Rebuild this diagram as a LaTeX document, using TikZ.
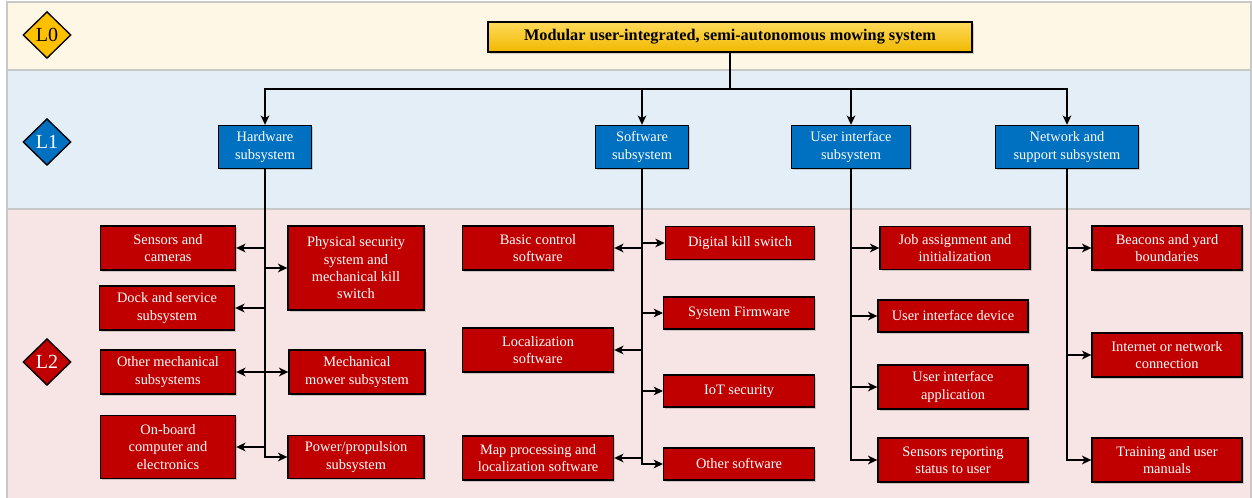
\documentclass[tikz,border=0pt]{standalone}
\usepackage{fontspec}
\setmainfont{Liberation Serif}
\usetikzlibrary{shapes.geometric,arrows.meta,shadows}

\definecolor{bandzero}{RGB}{255,247,229}
\definecolor{bandone}{RGB}{228,238,247}
\definecolor{bandtwo}{RGB}{247,229,229}
\definecolor{bandline}{RGB}{200,200,200}
\definecolor{lvlyellow}{RGB}{255,192,0}
\definecolor{lvlblue}{RGB}{0,112,192}
\definecolor{lvlred}{RGB}{192,0,0}
\definecolor{roottop}{RGB}{255,218,90}
\definecolor{rootbottom}{RGB}{240,184,0}

\tikzset{
  band/.style={draw=bandline, line width=0.8pt},
  level/.style={diamond, draw=black, line width=1pt, inner sep=0pt, aspect=1,
    minimum width=36pt, minimum height=35pt, font=\fontsize{15}{15}\selectfont},
  boxbase/.style={draw=black, line width=1pt, align=center, inner sep=1pt,
    font=\fontsize{10.8}{13}\selectfont, text=white,
    drop shadow={opacity=0.35, shadow xshift=1.2pt, shadow yshift=-1.2pt}},
  subbox/.style={boxbase, fill=lvlblue, minimum height=32.25pt},
  partbox/.style={boxbase, fill=lvlred, minimum height=33pt},
  arr/.style={draw=black, line width=1.2pt, -{Stealth[length=7pt,width=6.5pt,inset=2pt]}},
}

\begin{document}
\begin{tikzpicture}[x=0.75pt,y=0.75pt,yscale=-1,xscale=1]
\useasboundingbox (0,0) rectangle (1252,498);

% bands
\draw [band, fill=bandzero] (7,2) rectangle (1251,70);
\draw [band, fill=bandone] (7,70) rectangle (1251,209);
\draw [band, fill=bandtwo] (7,209) rectangle (1251,500);

% level markers
\node (lzero) at (47,35) [level, fill=lvlyellow, text=black] {L0};
\node (lone) at (47,142) [level, fill=lvlblue, text=white] {L1};
\node (ltwo) at (47,362) [level, fill=lvlred, text=white] {L2};

% top level
\node (root) at (730,37) [boxbase, text=black, top color=roottop, bottom color=rootbottom,
  minimum width=363pt, minimum height=22.5pt, font=\fontsize{12.2}{13}\selectfont\bfseries] {Modular user-integrated, semi-autonomous mowing system};
\coordinate (bus) at (730,89);

% subsystems
\node (hw) at (265,147) [subbox, minimum width=69.75pt] {Hardware\\subsystem};
\node (sw) at (642,147) [subbox, minimum width=69.75pt] {Software\\subsystem};
\node (ui) at (851,147) [subbox, minimum width=89.25pt] {User interface\\subsystem};
\node (net) at (1067,147) [subbox, minimum width=107.25pt] {Network and\\support subsystem};

% hardware parts
\node (sens) at (168,248) [partbox, minimum width=101.25pt] {Sensors and\\cameras};
\node (dock) at (167,308) [partbox, minimum width=101.25pt] {Dock and service\\subsystem};
\node (othmech) at (168,372) [partbox, minimum width=101.25pt] {Other mechanical\\subsystems};
\node (onboard) at (168,447) [partbox, minimum width=101.25pt, minimum height=47.25pt] {On-board\\computer and\\electronics};
\node (physec) at (356,268) [partbox, minimum width=102pt, minimum height=63pt] {Physical security\\system and\\mechanical kill\\switch};
\node (mower) at (357,372) [partbox, minimum width=102pt] {Mechanical\\mower subsystem};
\node (power) at (356,457) [partbox, minimum width=102pt, minimum height=32.25pt] {Power/propulsion\\subsystem};

% software parts
\node (basic) at (538,248) [partbox, minimum width=113.25pt] {Basic control\\software};
\node (local) at (538,350) [partbox, minimum width=113.25pt] {Localization\\software};
\node (mapproc) at (538,458) [partbox, minimum width=113.25pt] {Map processing and\\localization software};
\node (dks) at (740,243) [partbox, minimum width=112pt, minimum height=24.75pt] {Digital kill switch};
\node (firm) at (739,313) [partbox, minimum width=113pt, minimum height=24pt] {System Firmware};
\node (iot) at (739,391) [partbox, minimum width=113pt, minimum height=24pt] {IoT security};
\node (othsw) at (739,464) [partbox, minimum width=113pt, minimum height=24pt] {Other software};

% user interface parts
\node (job) at (955,248) [partbox, minimum width=112.5pt, minimum height=32.25pt] {Job assignment and\\initialization};
\node (uidev) at (953,316) [partbox, minimum width=112.5pt, minimum height=24pt] {User interface device};
\node (uiapp) at (953,387) [partbox, minimum width=112.5pt] {User interface\\application};
\node (report) at (953,460) [partbox, minimum width=112.5pt] {Sensors reporting\\status to user};

% network parts
\node (beacon) at (1167,248) [partbox, minimum width=112.5pt] {Beacons and yard\\boundaries};
\node (inet) at (1167,355) [partbox, minimum width=112.5pt] {Internet or network\\connection};
\node (train) at (1167,460) [partbox, minimum width=112.5pt] {Training and user\\manuals};

% root to subsystems
\draw [arr] (root.south) -- (bus) -| (hw.north);
\draw [arr] (root.south) -- (bus) -| (sw.north);
\draw [arr] (root.south) -- (bus) -| (ui.north);
\draw [arr] (root.south) -- (bus) -| (net.north);

% subsystems to parts
\foreach \part in {sens,dock,othmech,onboard} \draw [arr] (hw.south) |- (\part.east);
\foreach \part in {physec,mower,power} \draw [arr] (hw.south) |- (\part.west);
\foreach \part in {basic,local,mapproc} \draw [arr] (sw.south) |- (\part.east);
\foreach \part in {dks,firm,iot,othsw} \draw [arr] (sw.south) |- (\part.west);
\foreach \part in {job,uidev,uiapp,report} \draw [arr] (ui.south) |- (\part.west);
\foreach \part in {beacon,inet,train} \draw [arr] (net.south) |- (\part.west);

\end{tikzpicture}
\end{document}
